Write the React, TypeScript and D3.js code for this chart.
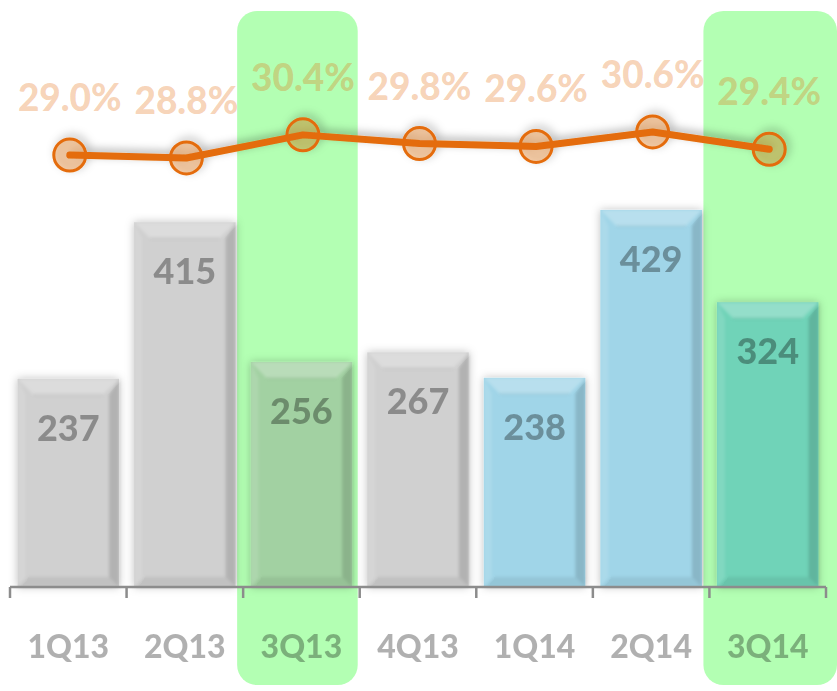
import React from 'react';
import * as d3 from 'd3';

// quarters, revenue bars and margin line
const quarters = ['1Q13', '2Q13', '3Q13', '4Q13', '1Q14', '2Q14', '3Q14'];
const revenue = [237, 415, 256, 267, 238, 429, 324];
const margin = [29.0, 28.8, 30.4, 29.8, 29.6, 30.6, 29.4];
const highlighted = ['3Q13', '3Q14'];

const W = 837;
const H = 691;
const baseY = 587;
const ORANGE = '#e46c0a';
const FONT = 'Lato, "Open Sans", sans-serif';

const barColor = (q: string) => {
  const is2013 = q.endsWith('13');
  const hl = highlighted.includes(q);
  if (is2013) return hl ? '#a2d1a2' : '#d0d0d0';
  return hl ? '#70d3b8' : '#a0d5e8';
};

const App = () => {
  const x = d3.scaleBand<string>().domain(quarters).range([10, 826]).padding(0);
  const bw = x.bandwidth();
  const y = d3.scaleLinear().domain([0, 500]).range([baseY, baseY - 439.5]);
  const yLine = d3.scaleLinear().domain([27, 31]).range([184, 126.2]);

  const inset = 7.5;
  const bev = 16;

  const points: [number, number][] = margin.map((m, i) => [
    (x(quarters[i]) as number) + bw / 2 + 1.5,
    yLine(m),
  ]);
  const line = d3.line();

  const ticks = [...quarters.map(q => x(q) as number), (x(quarters[quarters.length - 1]) as number) + bw];

  return (
    <svg width={W} height={H} style={{ position: 'absolute', left: 0, top: 0 }}>
      <defs>
        <filter id="barShadow" x="-20%" y="-20%" width="140%" height="140%">
          <feDropShadow dx="0" dy="0" stdDeviation="4" floodColor="#000" floodOpacity="0.25" />
        </filter>
        <filter id="soft" x="-20%" y="-20%" width="140%" height="140%">
          <feGaussianBlur stdDeviation="1.6" />
        </filter>
        <filter id="lineShadow" x="-20%" y="-50%" width="140%" height="200%">
          <feDropShadow dx="3" dy="-3" stdDeviation="4" floodColor="#000" floodOpacity="0.3" />
        </filter>
      </defs>

      {/* highlight bands */}
      {quarters.map((q, i) => {
        if (!highlighted.includes(q)) return null;
        const hx = (x(q) as number) - 6;
        const hw = i === quarters.length - 1 ? W - hx : bw + 4;
        return <rect key={q} x={hx} y={11} width={hw} height={674} rx={20} fill="#b3ffb3" />;
      })}

      {/* bars */}
      {quarters.map((q, i) => {
        const x0 = (x(q) as number) + inset;
        const x1 = (x(q) as number) + bw - inset;
        const y0 = y(revenue[i]);
        const y1 = baseY;
        const c = barColor(q);
        return (
          <g key={q}>
            <rect x={x0} y={y0} width={x1 - x0} height={y1 - y0} fill={c} filter="url(#barShadow)" />
            <g filter="url(#soft)">
              <polygon
                points={`${x0},${y0} ${x1},${y0} ${x1 - bev},${y0 + bev} ${x0 + bev},${y0 + bev}`}
                fill="#fff"
                opacity={0.25}
              />
              <line x1={x0 + bev} y1={y0 + bev} x2={x1 - bev} y2={y0 + bev} stroke="#000" strokeOpacity={0.07} strokeWidth={2} />
              <polygon
                points={`${x1},${y0} ${x1},${y1} ${x1 - 10},${y1 - 10} ${x1 - 10},${y0 + bev}`}
                fill="#000"
                opacity={0.14}
              />
              <polygon
                points={`${x0},${y1} ${x1},${y1} ${x1 - 10},${y1 - 10} ${x0 + 10},${y1 - 10}`}
                fill="#000"
                opacity={0.07}
              />
              <polygon
                points={`${x0},${y0} ${x0},${y1} ${x0 + 8},${y1 - 10} ${x0 + 8},${y0 + bev}`}
                fill="#fff"
                opacity={0.12}
              />
            </g>
            <text
              x={(x0 + x1) / 2}
              y={y0 + 62}
              textAnchor="middle"
              fontFamily={FONT}
              fontWeight={900}
              fontSize={36}
              fill="#000"
              fillOpacity={0.33}
            >
              {revenue[i]}
            </text>
          </g>
        );
      })}

      {/* axis */}
      <line x1={ticks[0]} x2={ticks[ticks.length - 1]} y1={baseY} y2={baseY} stroke="#8c8c8c" strokeWidth={2.5} />
      {ticks.map((t, i) => (
        <line key={i} x1={t} x2={t} y1={baseY} y2={baseY + 11} stroke="#8c8c8c" strokeWidth={2.5} />
      ))}
      {quarters.map(q => (
        <text
          key={q}
          x={(x(q) as number) + bw / 2}
          y={658}
          textAnchor="middle"
          fontFamily={FONT}
          fontWeight={900}
          fontSize={32}
          fill="#000"
          fillOpacity={0.31}
        >
          {q}
        </text>
      ))}

      {/* margin line */}
      <g filter="url(#lineShadow)">
        {points.map((p, i) => (
          <circle key={i} cx={p[0]} cy={p[1]} r={16} fill={ORANGE} fillOpacity={0.3} stroke={ORANGE} strokeWidth={3} />
        ))}
        <path d={line(points) || ''} fill="none" stroke={ORANGE} strokeWidth={7} strokeLinecap="round" strokeLinejoin="round" />
      </g>
      {points.map((p, i) => (
        <text
          key={i}
          x={p[0]}
          y={p[1] - 44}
          textAnchor="middle"
          fontFamily={FONT}
          fontWeight={900}
          fontSize={37}
          fill={ORANGE}
          fillOpacity={0.3}
        >
          {margin[i].toFixed(1)}%
        </text>
      ))}
    </svg>
  );
};

export default App;
